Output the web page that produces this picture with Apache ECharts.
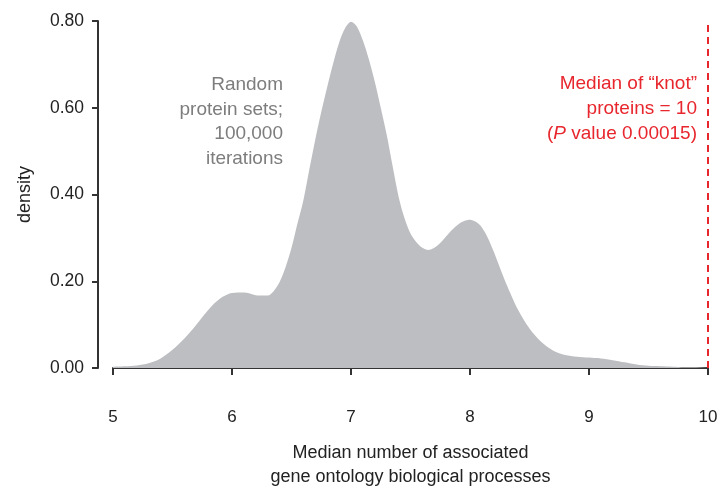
<!DOCTYPE html>
<html>
<head>
<meta charset="utf-8">
<script src="https://cdn.jsdelivr.net/npm/echarts@6/dist/echarts.min.js"></script>
<style>
  html, body { margin: 0; padding: 0; background: #fff; }
  #chart { width: 719px; height: 492px; }
</style>
</head>
<body>
<div id="chart"></div>
<script>
// median number of GO processes (x) and estimated density (y)
const xs = [5.0, 5.1, 5.2, 5.3, 5.4, 5.5, 5.6, 5.7, 5.8, 5.9,
            6.0, 6.1, 6.2, 6.25, 6.3, 6.35, 6.4, 6.45, 6.5, 6.55,
            6.6, 6.65, 6.7, 6.75, 6.8, 6.85, 6.9, 6.95,
            7.0, 7.05, 7.1, 7.15, 7.2, 7.25, 7.3, 7.35, 7.4, 7.45,
            7.5, 7.55, 7.6, 7.65, 7.7, 7.75, 7.8, 7.85, 7.9, 7.95,
            8.0, 8.05, 8.1, 8.15, 8.2, 8.25, 8.3, 8.4, 8.5, 8.6, 8.7, 8.8, 8.9,
            9.0, 9.1, 9.2, 9.3, 9.4, 9.5, 9.6, 9.7, 9.8, 9.9, 10.0];
const density = [0.003, 0.004, 0.006, 0.011, 0.022, 0.042, 0.068, 0.100, 0.134, 0.160,
                 0.173, 0.174, 0.168, 0.167, 0.167, 0.177, 0.198, 0.232, 0.277, 0.333,
                 0.387, 0.458, 0.527, 0.590, 0.648, 0.702, 0.750, 0.783,
                 0.798, 0.787, 0.755, 0.712, 0.660, 0.600, 0.538, 0.465, 0.395, 0.345,
                 0.310, 0.290, 0.277, 0.272, 0.277, 0.288, 0.304, 0.319, 0.331, 0.339,
                 0.342, 0.337, 0.324, 0.300, 0.268, 0.232, 0.197, 0.136, 0.091, 0.060, 0.040, 0.030, 0.026,
                 0.024, 0.022, 0.018, 0.013, 0.008, 0.005, 0.004, 0.003, 0.002, 0.002, 0.002];
const xTicks = [5, 6, 7, 8, 9, 10];
const yTicks = [0, 0.2, 0.4, 0.6, 0.8];
const knotMedian = 10;

const chart = echarts.init(document.getElementById('chart'));

chart.setOption({
  animation: false,
  textStyle: { fontFamily: 'Liberation Sans' },
  grid: { left: 113, right: 11, top: 21, bottom: 124, outerBoundsMode: 'none' },
  xAxis: {
    type: 'value',
    min: xTicks[0],
    max: xTicks[xTicks.length - 1],
    interval: 1,
    offset: 20,
    name: 'Median number of associated\ngene ontology biological processes',
    nameLocation: 'middle',
    nameGap: 53,
    nameTextStyle: { fontSize: 18, color: '#222', lineHeight: 24 },
    axisLine: { lineStyle: { color: '#333', width: 2 } },
    axisTick: { length: 7, lineStyle: { color: '#333', width: 2 } },
    axisLabel: { fontSize: 17, color: '#222', margin: 21 },
    splitLine: { show: false }
  },
  yAxis: {
    type: 'value',
    min: yTicks[0],
    max: yTicks[yTicks.length - 1],
    interval: 0.2,
    offset: 15,
    name: 'density',
    nameLocation: 'middle',
    nameGap: 64,
    nameTextStyle: { fontSize: 18, color: '#222' },
    axisLine: { show: true, lineStyle: { color: '#333', width: 2 } },
    axisTick: { show: true, length: 6, lineStyle: { color: '#333', width: 2 } },
    axisLabel: { fontSize: 17.5, color: '#222', margin: 14, formatter: v => v.toFixed(2) },
    splitLine: { show: false }
  },
  series: [{
    type: 'line',
    data: xs.map((x, i) => [x, density[i]]),
    smooth: 0.3,
    showSymbol: false,
    lineStyle: { width: 0 },
    areaStyle: { color: '#bdbec1', opacity: 1 },
    markLine: {
      silent: true,
      symbol: 'none',
      label: { show: false },
      lineStyle: { color: '#e8262d', type: [7, 5], width: 2 },
      data: [{ xAxis: knotMedian }]
    }
  }],
  graphic: [
    {
      type: 'text',
      x: 283,
      y: 73,
      style: {
        text: 'Random\nprotein sets;\n100,000\niterations',
        fill: '#7d7d7d',
        font: '19px "Liberation Sans"',
        align: 'right',
        verticalAlign: 'top',
        lineHeight: 24.5
      }
    },
    {
      type: 'text',
      x: 697,
      y: 71,
      style: {
        text: 'Median of \u201cknot\u201d\nproteins = 10\n({i|P} value 0.00015)',
        fill: '#e8262d',
        font: '19px "Liberation Sans"',
        align: 'right',
        verticalAlign: 'top',
        lineHeight: 25,
        rich: { i: { fontStyle: 'italic', fontSize: 19, fill: '#e8262d', lineHeight: 25 } }
      }
    }
  ]
});
</script>
</body>
</html>
